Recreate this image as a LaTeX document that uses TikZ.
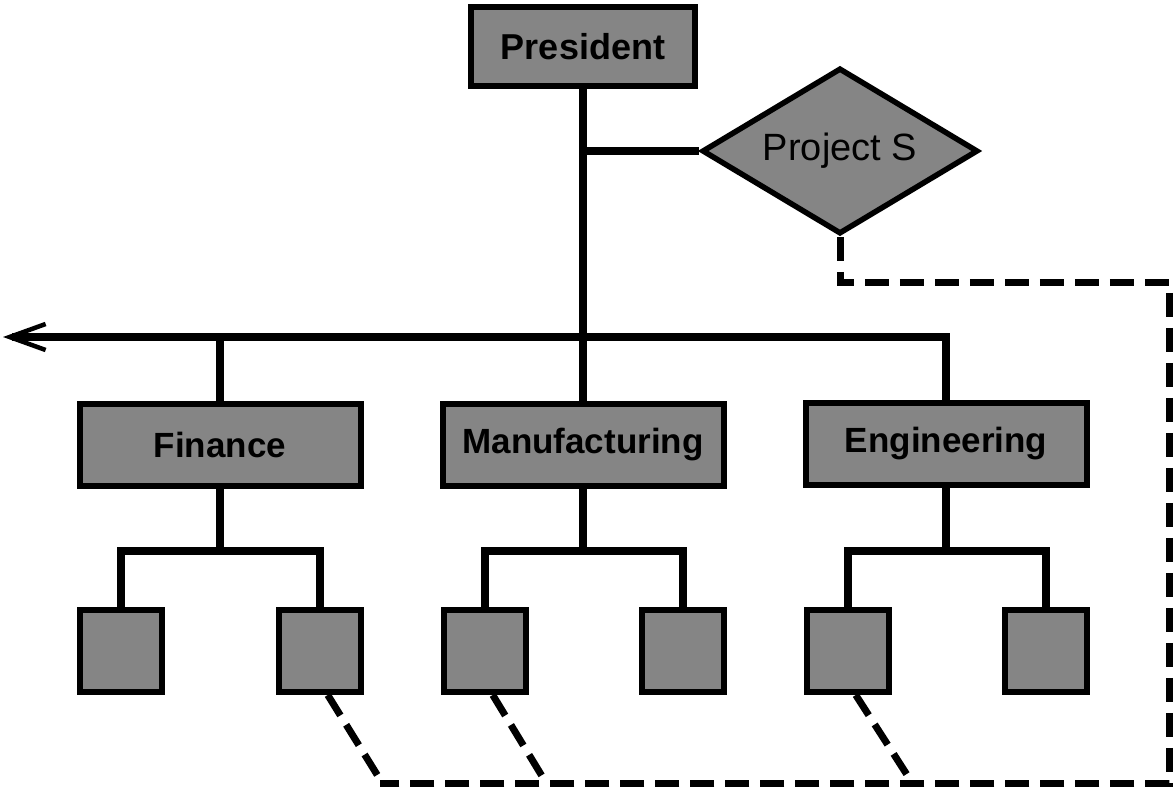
\documentclass[tikz,border=0pt]{standalone}
\usepackage{fontspec}
\setmainfont{Liberation Sans}
\usetikzlibrary{shapes.geometric,arrows.meta}
\definecolor{boxgray}{gray}{0.52}
\begin{document}
\begin{tikzpicture}[x=1pt,y=-1pt,
  box/.style={draw=black, line width=6pt, fill=boxgray, inner sep=0pt,
              font=\bfseries\fontsize{35}{40}\selectfont},
  dept/.style={box, minimum width=281pt, minimum height=82pt},
  unit/.style={box, minimum width=82pt, minimum height=82pt},
  link/.style={line width=7.5pt},
  dashlink/.style={line width=7pt, dash pattern=on 24pt off 11pt}
]
\useasboundingbox (0,0) rectangle (1174,792);

% top of the chart
\node[box, minimum width=224pt, minimum height=79pt,
      font=\bfseries\fontsize{36}{40}\selectfont] (pres) at (583,46.5) {President};
\node[diamond, draw=black, line width=5.5pt, fill=boxgray, aspect=1.64,
      minimum width=276pt, minimum height=166pt, inner sep=0pt,
      font=\fontsize{38}{44}\selectfont] (proj) at (840,151) {Project S};

% departments
\node[dept] (fin) at (220,444.5) {Finance};
\node[dept] (mfg) at (583,444.5) {Manufacturing};
\node[dept] (eng) at (946,443.5) {Engineering};

% units below each department
\node[unit] (finA) at (121,651) {};
\node[unit] (finB) at (320,651) {};
\node[unit] (mfgA) at (485,651) {};
\node[unit] (mfgB) at (683,651) {};
\node[unit] (engA) at (848,651) {};
\node[unit] (engB) at (1046,651) {};

% junction points
\coordinate (tip) at (3,337);
\coordinate (finbar) at (220,551);
\coordinate (mfgbar) at (583,551);
\coordinate (engbar) at (946,551);
\coordinate (dTR) at (1169,282);
\coordinate (dBR) at (1169,783);
\coordinate (dBL) at (380,783);
\coordinate (e1) at (381,781);
\coordinate (e2) at (545,781);
\coordinate (e3) at (911,781);

% solid reporting lines
\draw[link] (pres.south) -- (mfg.north);
\draw[link] (pres.south |- proj.west) -- (proj.west);
\draw[link, -{Straight Barb[length=36pt,width=26pt,line width=4.5pt]}]
  (eng.north) |- (tip);
\draw[link] (fin.north) -- (fin.north |- tip);

\draw[link] (fin.south) -- (finbar);
\draw[link] (finA.north) |- (finbar) -| (finB.north);
\draw[link] (mfg.south) -- (mfgbar);
\draw[link] (mfgA.north) |- (mfgbar) -| (mfgB.north);
\draw[link] (eng.south) -- (engbar);
\draw[link] (engA.north) |- (engbar) -| (engB.north);

% dashed project links
\draw[dashlink] (proj.south) |- (dTR) -- (dBR) -- (dBL);
\draw[dashlink] (finB.-80) -- (e1);
\draw[dashlink] (mfgA.-80) -- (e2);
\draw[dashlink] (engA.-80) -- (e3);
\end{tikzpicture}
\end{document}
